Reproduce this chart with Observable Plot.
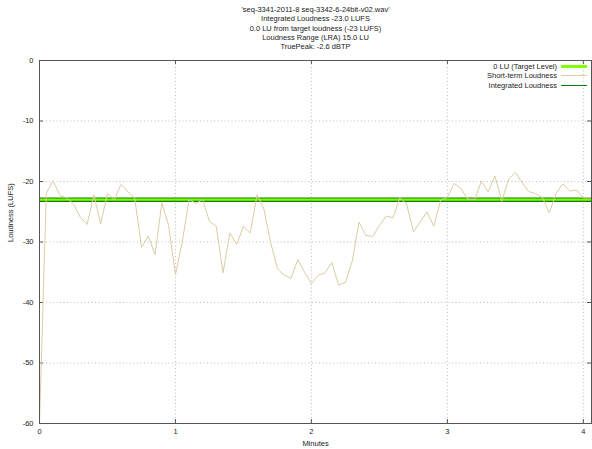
<!DOCTYPE html>
<html>
<head>
<meta charset="utf-8">
<script src="https://cdn.jsdelivr.net/npm/d3@7"></script>
<script src="https://cdn.jsdelivr.net/npm/@observablehq/plot@0.6"></script>
<style>
  body { margin: 0; background: #fff; }
  #wrap { position: relative; width: 592px; height: 449px; font-family: "Liberation Sans", Arial, sans-serif; }
  #legend { position: absolute; right: 5px; top: 62px; font-size: 7.5px; color: #222; }
  #legend .row { display: flex; align-items: center; justify-content: flex-end; height: 9.3px; }
  #legend .sw { display: inline-block; width: 26px; margin-left: 4px; }
</style>
</head>
<body>
<div id="wrap"></div>
<script>
// ---- data ----
const titleLines = [
  "'seq-3341-2011-8 seq-3342-6-24bit-v02.wav'",
  "Integrated Loudness -23.0 LUFS",
  "0.0 LU from target loudness (-23 LUFS)",
  "Loudness Range (LRA) 15.0 LU",
  "TruePeak: -2.6 dBTP"
];
const seriesNames = ["0 LU (Target Level)", "Short-term Loudness", "Integrated Loudness"];
const seriesColors = ["#80ff00", "#dccca4", "#0b7f0b"];
const targetLevel = -23;
const integratedLoudness = -23.0;
const stepSeconds = 3; // one short-term value every 3 s
const shortTerm = [
  -60, -21.9, -19.9, -22.3, -22.7, -23.7, -25.9, -27.1, -22.2, -27.0,
  -22.0, -23.0, -20.5, -21.7, -22.7, -30.9, -29.0, -32.1, -23.5, -27.3,
  -35.4, -30.0, -23.0, -23.6, -23.0, -26.6, -27.4, -35.1, -28.5, -30.4,
  -27.4, -28.5, -22.2, -24.5, -30.1, -34.4, -35.5, -36.0, -32.9, -35.0,
  -36.9, -35.5, -35.1, -33.4, -37.1, -36.7, -33.2, -26.7, -28.9, -29.1,
  -27.3, -25.7, -26.0, -22.7, -23.7, -28.3, -26.7, -25.0, -27.4, -23.1,
  -22.6, -20.3, -21.2, -22.9, -23.0, -20.0, -21.7, -19.1, -23.3, -19.6,
  -18.5, -20.2, -21.7, -22.0, -22.7, -25.2, -21.9, -20.4, -21.6, -21.4,
  -22.7, -22.7
];
const xTicks = [0, 1, 2, 3, 4];
const yTicks = [0, -10, -20, -30, -40, -50, -60];
const xDomain = [0, 4.06];
const yDomain = [-60, 0];

// ---- build ----
const rows = shortTerm.map((v, i) => ({minutes: i * stepSeconds / 60, lufs: v}));
const tickLenX = 4 / 136;   // ~4px in minutes
const tickLenY = 4 / 6.05;  // ~4px in LU
const borderColor = "#555";
const gridColor = "#bdbdbd";

const plot = Plot.plot({
  width: 592,
  height: 449,
  marginTop: 60,
  marginRight: 1,
  marginBottom: 26,
  marginLeft: 39,
  style: {fontFamily: "Liberation Sans, Arial, sans-serif", fontSize: "7.5px", color: "#222", background: "white"},
  x: {domain: xDomain},
  y: {domain: yDomain},
  marks: [
    Plot.gridX(xTicks.filter(d => d > 0), {stroke: gridColor, strokeOpacity: 1, strokeDasharray: "1,2.5"}),
    Plot.gridY(yTicks.filter(d => d < 0 && d > -60), {stroke: gridColor, strokeOpacity: 1, strokeDasharray: "1,2.5"}),
    // inward ticks (mirrored)
    Plot.ruleY(yTicks, {y: d => d, x1: xDomain[0], x2: xDomain[0] + tickLenX, stroke: borderColor}),
    Plot.ruleY(yTicks, {y: d => d, x1: xDomain[1] - tickLenX, x2: xDomain[1], stroke: borderColor}),
    Plot.ruleX(xTicks, {x: d => d, y1: yDomain[0], y2: yDomain[0] + tickLenY, stroke: borderColor}),
    Plot.ruleX(xTicks, {x: d => d, y1: yDomain[1] - tickLenY, y2: yDomain[1], stroke: borderColor}),
    Plot.axisX(xTicks, {tickSize: 0, tickPadding: 5, label: null, tickFormat: d => String(d)}),
    Plot.axisY(yTicks, {tickSize: 0, tickPadding: 6, label: null, tickFormat: d => String(d)}),
    // integrated + target level
    Plot.ruleY([integratedLoudness], {stroke: seriesColors[2], strokeWidth: 4.5}),
    Plot.ruleY([targetLevel], {stroke: seriesColors[0], strokeWidth: 2.2}),
    // short-term loudness
    Plot.line(rows, {x: "minutes", y: "lufs", stroke: seriesColors[1], strokeWidth: 1}),
    Plot.frame({stroke: borderColor}),
    // titles
    ...titleLines.map((t, i) => Plot.text([t], {text: d => d, frameAnchor: "top", dy: -51 + i * 9.3, lineAnchor: "middle", fill: "#222"})),
    Plot.text(["Minutes"], {text: d => d, frameAnchor: "bottom", dy: 20, lineAnchor: "middle", fill: "#222"}),
    Plot.text(["Loudness (LUFS)"], {text: d => d, frameAnchor: "left", dx: -29, rotate: -90, lineAnchor: "middle", fill: "#222"})
  ]
});

const wrap = document.getElementById("wrap");
wrap.appendChild(plot);

// legend overlay
const legend = document.createElement("div");
legend.id = "legend";
const widths = [3, 1, 1];
seriesNames.forEach((name, i) => {
  const row = document.createElement("div");
  row.className = "row";
  const label = document.createElement("span");
  label.textContent = name;
  const sw = document.createElement("span");
  sw.className = "sw";
  sw.style.borderTop = `${widths[i]}px solid ${seriesColors[i]}`;
  row.appendChild(label);
  row.appendChild(sw);
  legend.appendChild(row);
});
wrap.appendChild(legend);
</script>
</body>
</html>
